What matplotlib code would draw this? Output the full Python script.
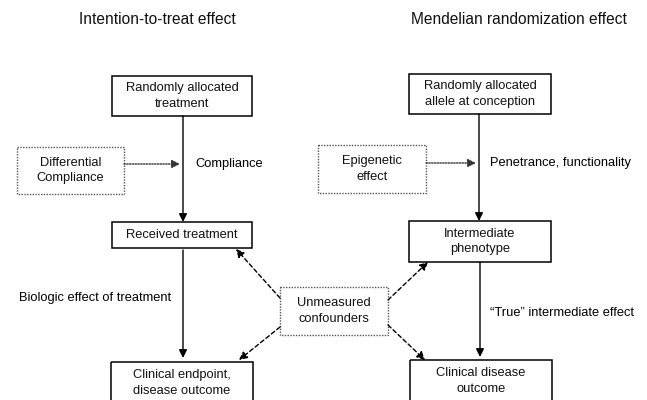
import matplotlib.pyplot as plt
from matplotlib.patches import Rectangle

plt.rcParams['font.family'] = ['Liberation Sans', 'DejaVu Sans']

# column headings
titles = ['Intention-to-treat effect', 'Mendelian randomization effect']

# box labels
left_boxes = ['Randomly allocated\ntreatment', 'Received treatment',
              'Clinical endpoint,\ndisease outcome']
right_boxes = ['Randomly allocated\nallele at conception', 'Intermediate\nphenotype',
               'Clinical disease\noutcome']
side_boxes = ['Differential\nCompliance', 'Epigenetic\neffect']
center_box = 'Unmeasured\nconfounders'

# arrow labels
left_labels = ['Compliance', 'Biologic effect of treatment']
right_labels = ['Penetrance, functionality', '\u201cTrue\u201d intermediate effect']

fig = plt.figure(figsize=(6.47, 4.0), dpi=100)
ax = fig.add_axes([0, 0, 1, 1])
ax.set_xlim(0, 647)
ax.set_ylim(400, 0)
ax.axis('off')

fs = 9.3


def box(x0, y0, x1, y1, text, dotted=False):
    if dotted:
        r = Rectangle((x0, y0), x1 - x0, y1 - y0, fill=False, ec='#555555',
                      lw=1.0, ls=(0, (1, 1)))
    else:
        r = Rectangle((x0, y0), x1 - x0, y1 - y0, fill=False, ec='black', lw=1.1)
    ax.add_patch(r)
    ty = (y0 + y1) / 2 if y1 < 400 else y0 + 21
    ax.text((x0 + x1) / 2, ty, text, ha='center', va='center', fontsize=fs,
            linespacing=1.35, color='#111111')


def arrow(x0, y0, x1, y1, ls='-', color='black'):
    ax.annotate('', xy=(x1, y1), xytext=(x0, y0),
                arrowprops=dict(arrowstyle='-|>', mutation_scale=12, lw=1.0,
                                ls=ls, color=color, shrinkA=0, shrinkB=0))


# titles
ax.text(157, 20, titles[0], ha='center', va='center', fontsize=11.2, color='#111111')
ax.text(519, 20, titles[1], ha='center', va='center', fontsize=11.2, color='#111111')

# left column
box(112, 76, 252, 116, left_boxes[0])
box(112, 222, 252, 248, left_boxes[1])
box(111, 362, 253, 410, left_boxes[2])
box(17, 147, 124, 194, side_boxes[0], dotted=True)
arrow(183, 116, 183, 222)
arrow(183, 250, 183, 358)
arrow(124, 164, 180, 164, ls=(0, (1, 1)), color='#333333')
ax.text(195, 164, left_labels[0], ha='left', va='center', fontsize=fs)
ax.text(19, 298, left_labels[1], ha='left', va='center', fontsize=fs)

# right column
box(409, 74, 551, 114, right_boxes[0])
box(409, 221, 551, 262, right_boxes[1])
box(410, 360, 552, 410, right_boxes[2])
box(318, 145, 426, 193, side_boxes[1], dotted=True)
arrow(479, 114, 479, 221)
arrow(480, 262, 480, 357)
arrow(426, 163, 476, 163, ls=(0, (1, 1)), color='#333333')
ax.text(490, 163, right_labels[0], ha='left', va='center', fontsize=fs)
ax.text(490, 313, right_labels[1], ha='left', va='center', fontsize=fs)

# confounders
box(280, 287, 388, 335, center_box, dotted=True)
arrow(280, 298, 236, 249, ls=(0, (3, 2)))
arrow(280, 327, 239, 360, ls=(0, (3, 2)))
arrow(388, 300, 428, 262, ls=(0, (3, 2)))
arrow(388, 325, 425, 360, ls=(0, (3, 2)))

fig.savefig('out.png', dpi=100)
